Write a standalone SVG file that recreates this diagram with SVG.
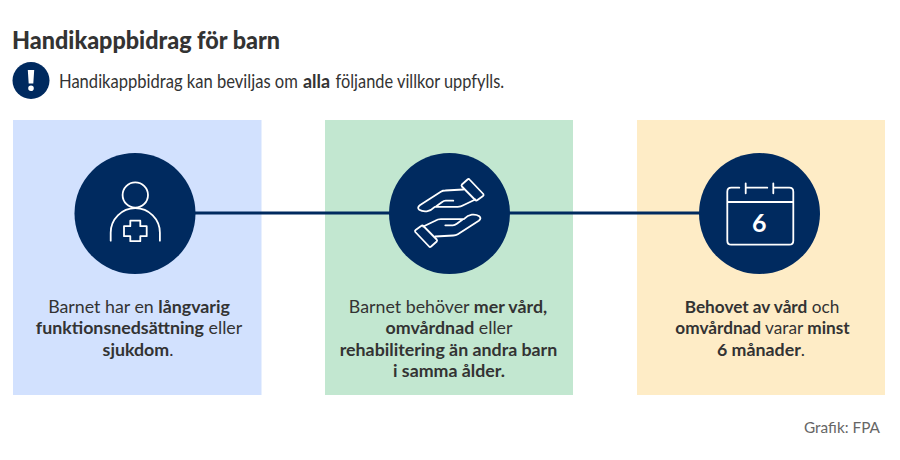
<svg xmlns="http://www.w3.org/2000/svg" width="900" height="460" viewBox="0 0 900 460">
<style>
text{font-family:"Lato","Liberation Sans",sans-serif;fill:#333}
.t{font-size:17.8px;text-anchor:middle}
.u{font-size:17.2px;text-anchor:middle}
.b{font-weight:700}
.n{font-size:19.5px}
.c{fill:#002a5f}
.i{fill:none;stroke:#fff;stroke-width:1.8;stroke-linecap:round;stroke-linejoin:round}
</style>
<rect width="900" height="460" fill="#fff"/>
<text id="title" x="12" y="49" font-size="25" font-weight="900" textLength="268" lengthAdjust="spacingAndGlyphs">Handikappbidrag för barn</text>
<g id="notice">
<circle class="c" cx="31" cy="80.500" r="18.500"/>
<path d="M27.800 70h6.400l-.9 13.500h-4.600zM31 85.500a2.800 2.800 0 1 1 0 5.600a2.800 2.800 0 0 1 0-5.600z" fill="#fff"/>
<text class="n" transform="translate(59 87.500) scale(.85 1)">Handikappbidrag kan beviljas om</text>
<text class="n b" transform="translate(303 87.500) scale(.92 1)">alla</text>
<text class="n" transform="translate(335.500 87.500) scale(.84 1)">följande villkor uppfylls.</text>
</g>
<rect x="13" y="120" width="248.500" height="275" fill="#d2e1fe"/>
<rect x="325" y="120" width="248" height="275" fill="#c2e7d0"/>
<rect x="637" y="120" width="248" height="275" fill="#feecc6"/>
<g id="connectors"><path d="M135 213H760" fill="none" stroke="#002a5f" stroke-width="3"/></g>
<g id="node1">
<circle class="c" cx="135" cy="213.500" r="60.500"/>
<g class="i"><circle cx="135.300" cy="195" r="12.700"/>
<path d="M110.700 240.700v-8a24.600 24.600 0 0 1 49.200 0v8"/>
<path d="M130.300 220.700h10v5.500h6.400v10h-6.400v5h-10v-5h-6.300v-10h6.300z"/></g>
<text class="t" x="139" y="313">Barnet har en <tspan class="b">långvarig</tspan></text>
<text class="t" x="139" y="334"><tspan class="b">funktionsnedsättning</tspan> eller</text>
<text class="t" x="138" y="356"><tspan class="b">sjukdom</tspan>.</text>
</g>
<g id="node2">
<circle class="c" cx="449.500" cy="213.500" r="60.500"/>
<g id="hand" class="i">
<path d="M463.300 189.500l-18 1q-2.500 0-4.500 1.300l-21 13.500q-3 2.500-.5 4.500q3 2 7.500 1.500q4-.5 8-4.500h23q3 0 5.500-1.500l12-5.800"/>
<path d="M453.300 200.700h-7.500q-2 0-4 1.500l-5.500 4"/>
<path d="M469.500 179.500l13.800 14.500q.8 1.200-.3 2l-5.500 4q-1.300 1-2.300 0l-13.300-13.500q-.8-1 0-2l5.600-5q1.200-1 2 0z"/>
</g>
<g class="i" transform="rotate(180 449.300 213)">
<path d="M463.300 189.500l-18 1q-2.500 0-4.500 1.300l-21 13.500q-3 2.500-.5 4.500q3 2 7.500 1.500q4-.5 8-4.500h23q3 0 5.500-1.500l12-5.800"/>
<path d="M453.300 200.700h-7.500q-2 0-4 1.500l-5.500 4"/>
<path d="M469.500 179.500l13.800 14.500q.8 1.200-.3 2l-5.500 4q-1.300 1-2.300 0l-13.300-13.500q-.8-1 0-2l5.600-5q1.200-1 2 0z"/>
</g>
<text class="t" x="448" y="313">Barnet behöver <tspan class="b">mer vård,</tspan></text>
<text class="t" x="449" y="334"><tspan class="b">omvårdnad</tspan> eller</text>
<text class="t" x="448.500" y="356"><tspan class="b">rehabilitering än andra barn</tspan></text>
<text class="t" x="449" y="377"><tspan class="b">i samma ålder.</tspan></text>
</g>
<g id="node3">
<circle class="c" cx="759.500" cy="213.500" r="60.500"/>
<g class="i">
<path d="M739.300 187.700h-8q-4 0-4 4v49q0 4 4 4h58q4 0 4-4v-49q0-4-4-4h-16M745.700 183.300v10M745.700 187.700h21.600M773.300 183.300v10M727.300 202h66"/>
</g>
<text x="759.300" y="231.500" font-size="25" text-anchor="middle" class="b" style="fill:#fff">6</text>
<text class="u" x="762" y="313"><tspan class="b">Behovet av vård</tspan> och</text>
<text class="u" x="762.500" y="334"><tspan class="b">omvårdnad</tspan> varar <tspan class="b">minst</tspan></text>
<text class="t" x="761" y="356"><tspan class="b">6 månader</tspan>.</text>
</g>
<text x="880" y="433" font-size="16" text-anchor="end" style="fill:#666" textLength="76" lengthAdjust="spacingAndGlyphs">Grafik: FPA</text>
</svg>
